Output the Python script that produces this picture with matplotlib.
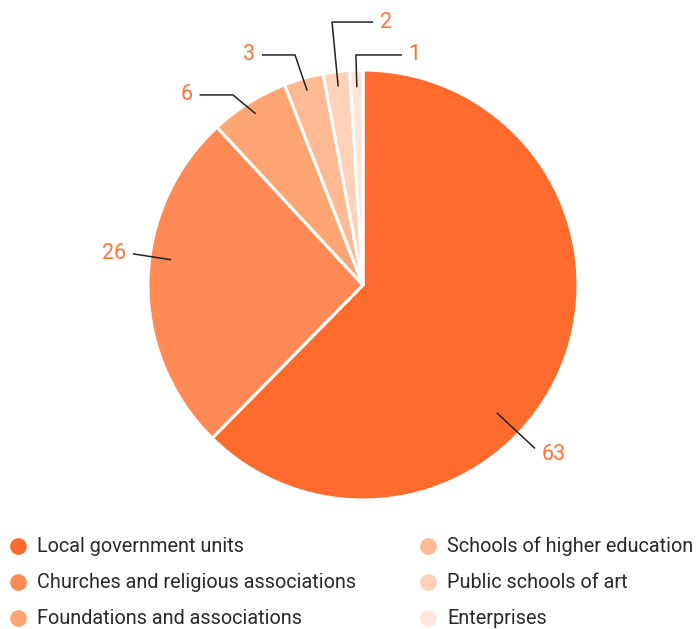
import numpy as np
import matplotlib.pyplot as plt
from matplotlib.lines import Line2D

categories = [
    "Local government units",
    "Churches and religious associations",
    "Foundations and associations",
    "Schools of higher education",
    "Public schools of art",
    "Enterprises",
]
values = [63, 26, 6, 3, 2, 1]
colors = ["#FF6B2C", "#FF8A56", "#FFA473", "#FFBA94", "#FFD1B8", "#FFE6DA"]

# leader-line layout per slice: (anchor angle override, radius), elbow, end, text side, text dy
label_layout = [
    (133.7, 0.86, None, (0.80, -0.76), "left", -0.03),
    (277.5, 0.90, None, (-1.07, 0.145), "right", 0.0),
    (None, 0.94, (-0.605, 0.884), (-0.76, 0.884), "right", 0.0),
    (None, 0.94, (-0.316, 1.07), (-0.47, 1.07), "right", 0.0),
    (None, 0.93, (-0.144, 1.223), (0.047, 1.223), "left", 0.0),
    (None, 0.92, (-0.033, 1.07), (0.181, 1.07), "left", 0.0),
]

plt.rcParams['font.family'] = ['Roboto', 'DejaVu Sans']

W, H = 698, 629
cx, cy, R = 363, 285, 215
fig = plt.figure(figsize=(W / 100, H / 100), dpi=100)
ax = fig.add_axes([0, 0, 1, 1])

wedges, _ = ax.pie(values, colors=colors, startangle=90, counterclock=False,
                   radius=1, wedgeprops=dict(edgecolor='white', linewidth=2.2))
ax.set_aspect('auto')
ax.set_xlim(-cx / R, (W - cx) / R)
ax.set_ylim((cy - H) / R, cy / R)
ax.axis('off')

text_color = "#FF7434"
for w, v, (ang_override, r, elbow, end, side, dy) in zip(wedges, values, label_layout):
    if ang_override is None:
        mid = np.deg2rad((w.theta1 + w.theta2) / 2)
    else:
        mid = np.deg2rad(90 - ang_override)
    xs, ys = [r * np.cos(mid)], [r * np.sin(mid)]
    if elbow is not None:
        xs.append(elbow[0]); ys.append(elbow[1])
    xs.append(end[0]); ys.append(end[1])
    ax.plot(xs, ys, color="#222222", lw=1.1, solid_capstyle='butt')
    off = 0.03 if side == "left" else -0.03
    ax.text(end[0] + off, end[1] + dy, str(v), ha=side, va='center',
            fontsize=15.5, color=text_color)

# legend in two columns
col_x = [18, 428]
row_y = [546, 582, 618]
for i, (name, c) in enumerate(zip(categories, colors)):
    px = col_x[i // 3]
    py = row_y[i % 3]
    fig.add_artist(Line2D([px / W], [1 - py / H], marker='o', markersize=12,
                          color=c, markeredgewidth=0, transform=fig.transFigure))
    fig.text((px + 19) / W, 1 - py / H, name, ha='left', va='center',
             fontsize=14.3, color="#2a2a2a")

fig.savefig("out.png", dpi=100)
